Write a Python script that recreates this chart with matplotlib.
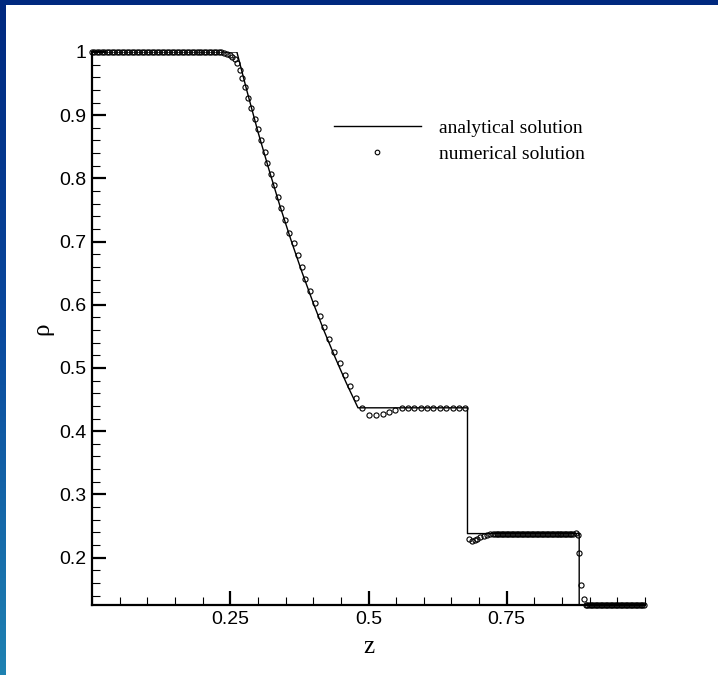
"""Shock tube density profile: analytical vs numerical solution."""
import matplotlib.pyplot as plt
import matplotlib.patches as patches
from matplotlib.colors import LinearSegmentedColormap
from matplotlib.ticker import MultipleLocator, FixedLocator
import numpy as np

# analytical solution: left state, rarefaction fan, plateau, contact, shock
z_exact = [0.0, 0.262, 0.28, 0.30, 0.32, 0.34, 0.36, 0.38, 0.40, 0.42,
           0.44, 0.46, 0.481, 0.679, 0.679, 0.881, 0.881, 1.0]
rho_exact = [1.0, 1.0, 0.939, 0.874, 0.814, 0.756, 0.702, 0.651, 0.603, 0.558,
             0.516, 0.476, 0.437, 0.437, 0.238, 0.238, 0.125, 0.125]

# numerical solution, constant stretches: start, stop, cell spacing, density
flat_runs = [(0.0, 0.236, 0.0045, 1.0),
             (0.571, 0.676, 0.0116, 0.437),
             (0.726, 0.872, 0.003, 0.238),
             (0.893, 1.0, 0.003, 0.125)]

# numerical solution through the rarefaction fan
z_num_fan = [0.239, 0.245, 0.249, 0.254, 0.258, 0.262, 0.267, 0.272, 0.277, 0.283,
             0.288, 0.295, 0.300, 0.306, 0.312, 0.317, 0.324, 0.330, 0.336, 0.342,
             0.349, 0.357, 0.365, 0.372, 0.379, 0.386, 0.394, 0.403, 0.412, 0.420,
             0.429, 0.438, 0.448, 0.458, 0.467, 0.478, 0.489, 0.501, 0.514, 0.526,
             0.537, 0.548, 0.560]
rho_num_fan = [0.999, 0.997, 0.995, 0.992, 0.989, 0.982, 0.971, 0.959, 0.944, 0.928,
               0.911, 0.894, 0.878, 0.861, 0.842, 0.824, 0.807, 0.790, 0.771, 0.753,
               0.734, 0.714, 0.698, 0.679, 0.660, 0.641, 0.622, 0.603, 0.583, 0.565,
               0.546, 0.526, 0.508, 0.489, 0.471, 0.452, 0.436, 0.426, 0.425, 0.427,
               0.430, 0.433, 0.436]

# behind the contact and across the shock
z_num_contact = [0.682, 0.687, 0.692, 0.697, 0.702, 0.708, 0.714, 0.720]
rho_num_contact = [0.229, 0.227, 0.228, 0.230, 0.232, 0.234, 0.236, 0.237]
z_num_shock = [0.876, 0.879, 0.8815, 0.8845, 0.889]
rho_num_shock = [0.239, 0.235, 0.208, 0.157, 0.134]

z_num = list(z_num_fan) + z_num_contact + z_num_shock
rho_num = list(rho_num_fan) + rho_num_contact + rho_num_shock
for start, stop, dz, value in flat_runs:
    zs = np.arange(start, stop + 1e-9, dz)
    z_num += list(zs)
    rho_num += [value] * len(zs)
order = np.argsort(z_num)
z_num = np.array(z_num)[order]
rho_num = np.array(rho_num)[order]

fig = plt.figure(figsize=(7.18, 6.75), dpi=100)

# slide frame: dark band on top, blue gradient down the left edge
fig.patches.append(patches.Rectangle((0, 1 - 5 / 675), 1, 5 / 675,
                                     transform=fig.transFigure,
                                     facecolor='#00297f', edgecolor='none'))
strip = fig.add_axes([0, 0, 6 / 718, 1])
blues = LinearSegmentedColormap.from_list('frame', ['#00287f', '#0a4a9e', '#1f82b2'])
strip.imshow(np.linspace(0, 1, 256).reshape(-1, 1), aspect='auto', cmap=blues)
strip.axis('off')

ax = fig.add_axes([92 / 718, 70 / 675, 553 / 718, 553 / 675])
ax.plot(z_exact, rho_exact, color='black', lw=1.0, label='analytical solution')
ax.plot(z_num, rho_num, ls='none', marker='o', ms=3.7, mfc='none', mec='black',
        mew=0.8, label='numerical solution', clip_on=False)

ax.set_xlim(0, 1)
ax.set_ylim(0.125, 1.0)

for side in ['top', 'right']:
    ax.spines[side].set_visible(False)
for side in ['left', 'bottom']:
    ax.spines[side].set_linewidth(1.6)

ax.xaxis.set_major_locator(FixedLocator([0.25, 0.5, 0.75]))
ax.xaxis.set_minor_locator(MultipleLocator(0.05))
ax.yaxis.set_major_locator(MultipleLocator(0.1))
ax.yaxis.set_minor_locator(MultipleLocator(0.02))
ax.set_xticklabels(['0.25', '0.5', '0.75'])
ax.set_yticks(np.arange(0.2, 1.01, 0.1))
ax.set_yticklabels(['0.2', '0.3', '0.4', '0.5', '0.6', '0.7', '0.8', '0.9', '1'])
ax.tick_params(which='major', direction='in', length=10, width=1.6, pad=4,
               labelsize=14)
ax.tick_params(which='minor', direction='in', length=6, width=0.8)
for lab in ax.get_xticklabels() + ax.get_yticklabels():
    lab.set_family('Liberation Sans')

ax.set_xlabel('z', family='Liberation Serif', fontsize=18, labelpad=6)
ax.set_ylabel('ρ', family='Liberation Serif', fontsize=18, labelpad=4)

leg = ax.legend(loc='upper left', bbox_to_anchor=(0.437, 0.878), frameon=False,
                prop={'family': 'Liberation Serif', 'size': 14},
                handlelength=4.5, handletextpad=0.9, labelspacing=0.42,
                borderpad=0, borderaxespad=0, markerscale=0.9)

fig.savefig('out.png', dpi=100)
